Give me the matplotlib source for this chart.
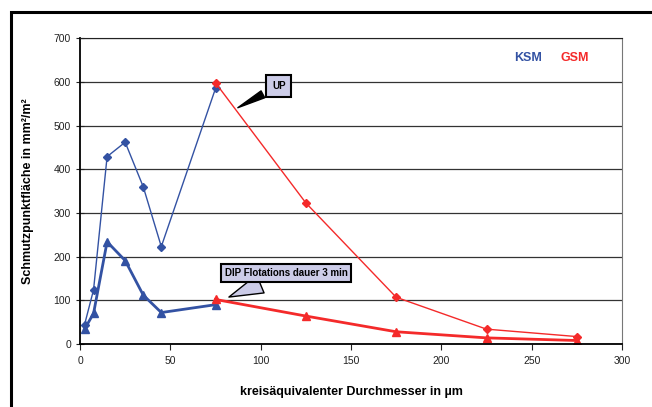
import matplotlib.pyplot as plt
import matplotlib.patches as mpatches

plt.rcParams['font.family'] = ['Liberation Sans', 'DejaVu Sans']

# diameters (um)
x_ksm = [2.5, 7.5, 15, 25, 35, 45, 75]
x_gsm = [75, 125, 175, 225, 275]

# UP (thin lines, diamonds)
up_ksm = [44, 124, 429, 462, 360, 223, 585]
up_gsm = [598, 323, 107, 34, 17]

# DIP flotation 3 min (thick lines, triangles)
dip_ksm = [34, 70, 234, 191, 112, 72, 90]
dip_gsm = [102, 64, 28, 14, 8]

blue = '#3352A3'
red = '#F42A2A'
lav = '#CCCCE8'

fig = plt.figure(figsize=(6.52, 4.07), dpi=100)
ax = fig.add_axes([0.1227, 0.1548, 0.8313, 0.7512])

# outer frame (left and top edges show)
fig.patches.append(mpatches.Rectangle((11/652, -0.1), 1.2, 1 - 12/407 + 0.1,
                                      transform=fig.transFigure, fill=False,
                                      ec='black', lw=2.2))

ax.plot(x_ksm, up_ksm, color=blue, lw=1, marker='D', ms=4)
ax.plot(x_gsm, up_gsm, color=red, lw=1, marker='D', ms=4)
ax.plot(x_ksm, dip_ksm, color=blue, lw=2, marker='^', ms=6)
ax.plot(x_gsm, dip_gsm, color=red, lw=2, marker='^', ms=6)

ax.set_xlim(0, 300)
ax.set_ylim(0, 700)
ax.set_xticks(range(0, 301, 50))
ax.set_yticks(range(0, 701, 100))
ax.yaxis.grid(True, color='#333333', lw=0.9)
ax.set_axisbelow(True)
ax.tick_params(labelsize=7.5, colors='#222222', length=4)
ax.tick_params(axis='y', direction='inout', length=6)
ax.tick_params(axis='x', pad=5)
for s in ['left', 'bottom']:
    ax.spines[s].set_linewidth(1.3)
ax.spines['top'].set_color('#222222')
ax.spines['right'].set_color('#777777')

ax.set_xlabel('kreisäquivalenter Durchmesser in µm', fontsize=9, fontweight='bold', labelpad=14)
ax.set_ylabel('Schmutzpunktfläche in mm²/m²', fontsize=9, fontweight='bold', labelpad=14)

ax.text(0.826, 0.935, 'KSM', color=blue, fontsize=9, fontweight='bold',
        transform=ax.transAxes, ha='center', va='center')
ax.text(0.913, 0.935, 'GSM', color=red, fontsize=9, fontweight='bold',
        transform=ax.transAxes, ha='center', va='center')

ax.annotate('UP', xy=(86, 538), xytext=(110, 591), fontsize=7, fontweight='bold',
            ha='center', va='center',
            bbox=dict(boxstyle='square,pad=0.6', fc=lav, ec='black', lw=1.5),
            arrowprops=dict(arrowstyle='wedge,tail_width=0.8,shrink_factor=0.5',
                            fc='black', ec='black'))
ax.annotate('DIP Flotations dauer 3 min', xy=(81, 105), xytext=(114, 162),
            fontsize=7, fontweight='bold', ha='center', va='center',
            bbox=dict(boxstyle='square,pad=0.4', fc=lav, ec='black', lw=1.5),
            arrowprops=dict(arrowstyle='wedge,tail_width=2.0,shrink_factor=0.5',
                            fc=lav, ec='black'))

fig.savefig('out.png', dpi=100)
